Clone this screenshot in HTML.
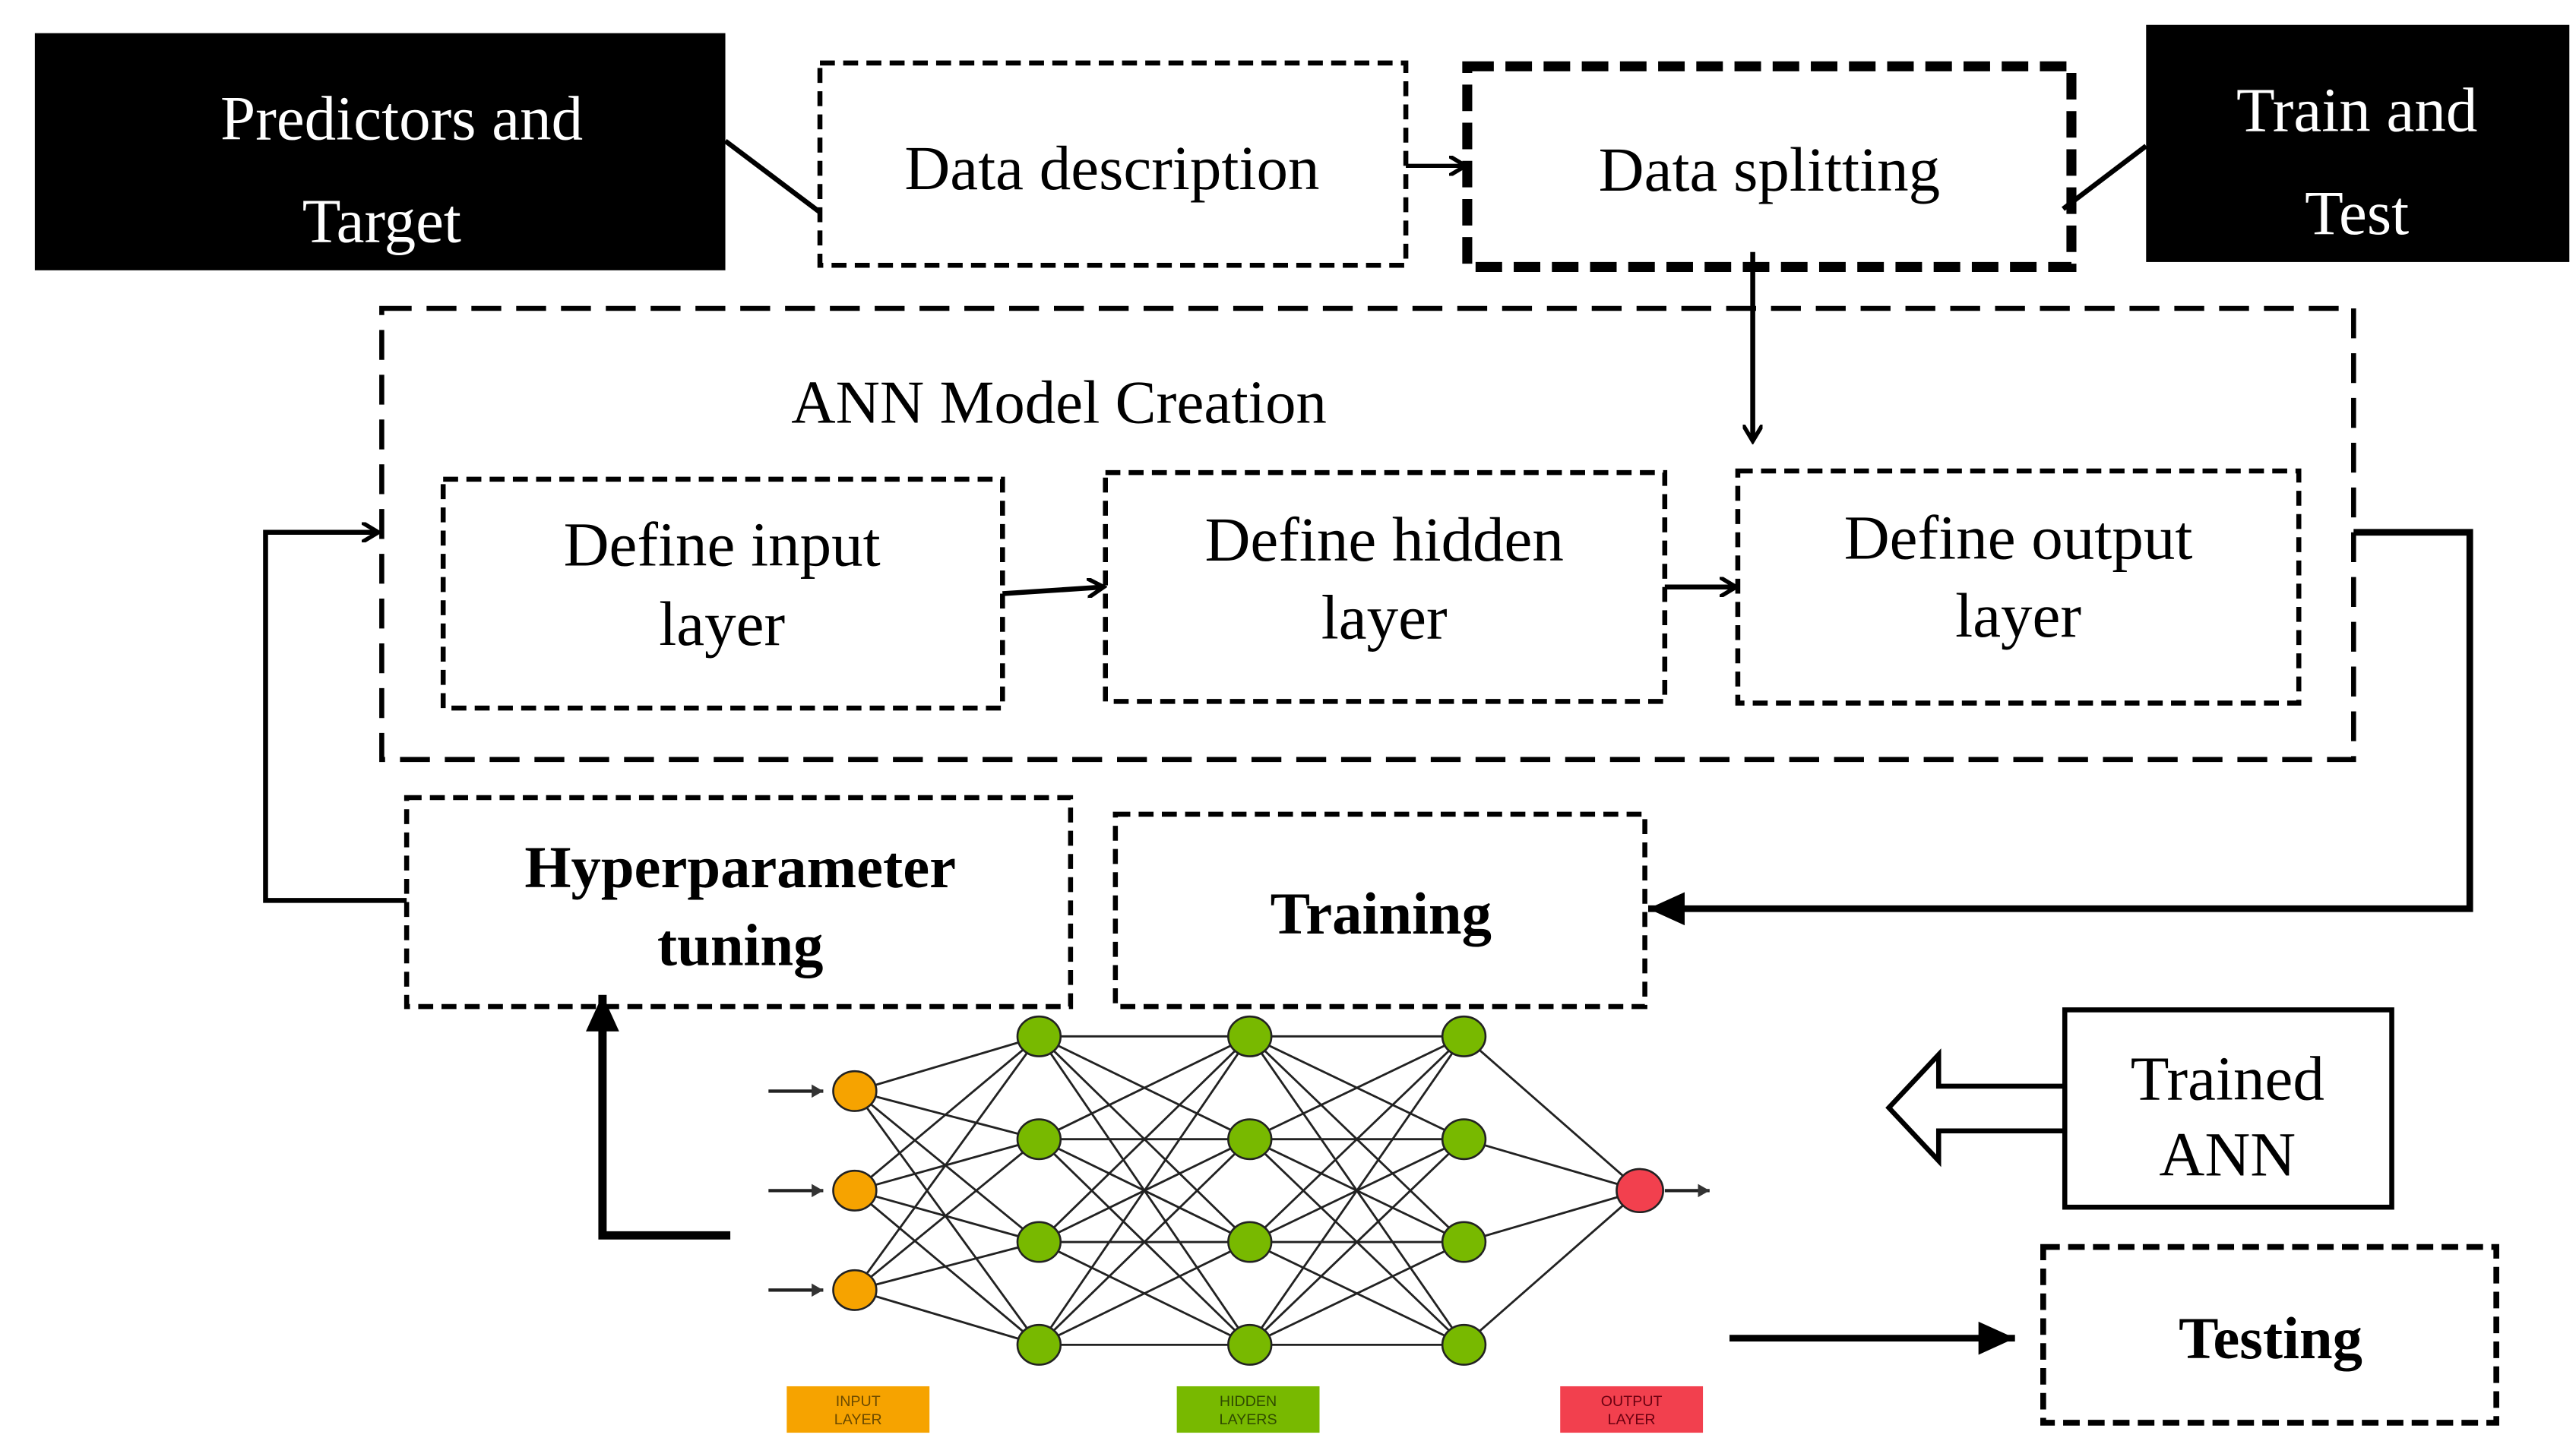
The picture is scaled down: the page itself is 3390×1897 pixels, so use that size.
<!DOCTYPE html>
<html><head><meta charset="utf-8"><style>
html,body{margin:0;padding:0;background:#fff}
svg{display:block}
text{font-family:"Liberation Serif",serif;fill:#000}
</style></head><body>
<svg width="3390" height="1897" viewBox="0 0 1552 869" preserveAspectRatio="none" xmlns="http://www.w3.org/2000/svg">
<defs>
<marker id="ao" markerWidth="12" markerHeight="12" refX="10" refY="6" orient="auto" markerUnits="userSpaceOnUse"><path d="M0,0 L10,6 L0,12" fill="none" stroke="#000" stroke-width="2.5"/></marker>
<marker id="af" markerWidth="24" markerHeight="24" refX="22" refY="12" orient="auto" markerUnits="userSpaceOnUse"><path d="M0,2 L22,12 L0,22 z" fill="#000"/></marker>
<marker id="as" markerWidth="8" markerHeight="8" refX="7" refY="4" orient="auto" markerUnits="userSpaceOnUse"><path d="M0,0 L7,4 L0,8 z" fill="#333"/></marker>
</defs>

<rect x="21" y="20" width="416" height="143" fill="#000"/>
<text x="242" y="84" font-size="38" text-anchor="middle" style="fill:#fff">Predictors and</text>
<text x="230" y="146" font-size="38" text-anchor="middle" style="fill:#fff">Target</text>
<line x1="437" y1="85" x2="494" y2="128" stroke="#000" stroke-width="3"/>
<rect x="494" y="38" width="353" height="122" fill="none" stroke="#000" stroke-width="3" stroke-dasharray="9,5"/>
<text x="670" y="114" font-size="38" text-anchor="middle">Data description</text>
<line x1="847" y1="100" x2="883" y2="100" stroke="#000" stroke-width="2.5" marker-end="url(#ao)"/>
<rect x="884" y="40" width="364" height="121" fill="none" stroke="#000" stroke-width="6" stroke-dasharray="16,7"/>
<text x="1066" y="115" font-size="38" text-anchor="middle">Data splitting</text>
<line x1="1243" y1="126" x2="1293" y2="88" stroke="#000" stroke-width="3"/>
<rect x="1293" y="15" width="255" height="143" fill="#000"/>
<text x="1420" y="79" font-size="38" text-anchor="middle" style="fill:#fff">Train and</text>
<text x="1420" y="141" font-size="38" text-anchor="middle" style="fill:#fff">Test</text>
<line x1="1056" y1="152" x2="1056" y2="266" stroke="#000" stroke-width="3" marker-end="url(#ao)"/>

<rect x="230" y="186" width="1188" height="272" fill="none" stroke="#000" stroke-width="3" stroke-dasharray="18,9"/>
<text x="638" y="255" font-size="37" text-anchor="middle">ANN Model Creation</text>
<rect x="267" y="289" width="337" height="138" fill="none" stroke="#000" stroke-width="3" stroke-dasharray="9,5"/>
<text x="435" y="341" font-size="38" text-anchor="middle">Define input</text>
<text x="435" y="389" font-size="38" text-anchor="middle">layer</text>
<rect x="666" y="285" width="337" height="138" fill="none" stroke="#000" stroke-width="3" stroke-dasharray="9,5"/>
<text x="834" y="338" font-size="38" text-anchor="middle">Define hidden</text>
<text x="834" y="385" font-size="38" text-anchor="middle">layer</text>
<rect x="1047" y="284" width="338" height="140" fill="none" stroke="#000" stroke-width="3" stroke-dasharray="9,5"/>
<text x="1216" y="337" font-size="38" text-anchor="middle">Define output</text>
<text x="1216" y="384" font-size="38" text-anchor="middle">layer</text>
<line x1="604" y1="358" x2="665" y2="354" stroke="#000" stroke-width="3" marker-end="url(#ao)"/>
<line x1="1003" y1="354" x2="1046" y2="354" stroke="#000" stroke-width="3" marker-end="url(#ao)"/>

<polyline points="245,543 160,543 160,321 228,321" fill="none" stroke="#000" stroke-width="3" marker-end="url(#ao)"/>
<polyline points="1418,321 1488,321 1488,548 993,548" fill="none" stroke="#000" stroke-width="4" marker-end="url(#af)"/>

<rect x="245" y="481" width="400" height="126" fill="none" stroke="#000" stroke-width="3" stroke-dasharray="9,5"/>
<text x="446" y="535" font-size="36" font-weight="bold" text-anchor="middle">Hyperparameter</text>
<text x="446" y="582" font-size="36" font-weight="bold" text-anchor="middle">tuning</text>
<rect x="672" y="491" width="319" height="116" fill="none" stroke="#000" stroke-width="3" stroke-dasharray="9,5"/>
<text x="832" y="563" font-size="36" font-weight="bold" text-anchor="middle">Training</text>

<polyline points="440,745 363,745 363,600" fill="none" stroke="#000" stroke-width="5" marker-end="url(#af)"/>

<g stroke="#222" stroke-width="1.3">
<line x1="515" y1="658" x2="626" y2="625"/><line x1="515" y1="658" x2="626" y2="687"/><line x1="515" y1="658" x2="626" y2="749"/><line x1="515" y1="658" x2="626" y2="811"/>
<line x1="515" y1="718" x2="626" y2="625"/><line x1="515" y1="718" x2="626" y2="687"/><line x1="515" y1="718" x2="626" y2="749"/><line x1="515" y1="718" x2="626" y2="811"/>
<line x1="515" y1="778" x2="626" y2="625"/><line x1="515" y1="778" x2="626" y2="687"/><line x1="515" y1="778" x2="626" y2="749"/><line x1="515" y1="778" x2="626" y2="811"/>
<line x1="626" y1="625" x2="753" y2="625"/><line x1="626" y1="625" x2="753" y2="687"/><line x1="626" y1="625" x2="753" y2="749"/><line x1="626" y1="625" x2="753" y2="811"/>
<line x1="626" y1="687" x2="753" y2="625"/><line x1="626" y1="687" x2="753" y2="687"/><line x1="626" y1="687" x2="753" y2="749"/><line x1="626" y1="687" x2="753" y2="811"/>
<line x1="626" y1="749" x2="753" y2="625"/><line x1="626" y1="749" x2="753" y2="687"/><line x1="626" y1="749" x2="753" y2="749"/><line x1="626" y1="749" x2="753" y2="811"/>
<line x1="626" y1="811" x2="753" y2="625"/><line x1="626" y1="811" x2="753" y2="687"/><line x1="626" y1="811" x2="753" y2="749"/><line x1="626" y1="811" x2="753" y2="811"/>
<line x1="753" y1="625" x2="882" y2="625"/><line x1="753" y1="625" x2="882" y2="687"/><line x1="753" y1="625" x2="882" y2="749"/><line x1="753" y1="625" x2="882" y2="811"/>
<line x1="753" y1="687" x2="882" y2="625"/><line x1="753" y1="687" x2="882" y2="687"/><line x1="753" y1="687" x2="882" y2="749"/><line x1="753" y1="687" x2="882" y2="811"/>
<line x1="753" y1="749" x2="882" y2="625"/><line x1="753" y1="749" x2="882" y2="687"/><line x1="753" y1="749" x2="882" y2="749"/><line x1="753" y1="749" x2="882" y2="811"/>
<line x1="753" y1="811" x2="882" y2="625"/><line x1="753" y1="811" x2="882" y2="687"/><line x1="753" y1="811" x2="882" y2="749"/><line x1="753" y1="811" x2="882" y2="811"/>
<line x1="882" y1="625" x2="988" y2="718"/><line x1="882" y1="687" x2="988" y2="718"/><line x1="882" y1="749" x2="988" y2="718"/><line x1="882" y1="811" x2="988" y2="718"/>
<line x1="463" y1="658" x2="496" y2="658" stroke-width="2" marker-end="url(#as)"/>
<line x1="463" y1="718" x2="496" y2="718" stroke-width="2" marker-end="url(#as)"/>
<line x1="463" y1="778" x2="496" y2="778" stroke-width="2" marker-end="url(#as)"/>
<line x1="1003" y1="718" x2="1030" y2="718" stroke-width="2" marker-end="url(#as)"/>
</g>
<g stroke="#222" stroke-width="1.2">
<ellipse cx="515" cy="658" rx="13" ry="12" fill="#f6a300"/>
<ellipse cx="515" cy="718" rx="13" ry="12" fill="#f6a300"/>
<ellipse cx="515" cy="778" rx="13" ry="12" fill="#f6a300"/>
<ellipse cx="626" cy="625" rx="13" ry="12" fill="#78b900"/><ellipse cx="626" cy="687" rx="13" ry="12" fill="#78b900"/><ellipse cx="626" cy="749" rx="13" ry="12" fill="#78b900"/><ellipse cx="626" cy="811" rx="13" ry="12" fill="#78b900"/>
<ellipse cx="753" cy="625" rx="13" ry="12" fill="#78b900"/><ellipse cx="753" cy="687" rx="13" ry="12" fill="#78b900"/><ellipse cx="753" cy="749" rx="13" ry="12" fill="#78b900"/><ellipse cx="753" cy="811" rx="13" ry="12" fill="#78b900"/>
<ellipse cx="882" cy="625" rx="13" ry="12" fill="#78b900"/><ellipse cx="882" cy="687" rx="13" ry="12" fill="#78b900"/><ellipse cx="882" cy="749" rx="13" ry="12" fill="#78b900"/><ellipse cx="882" cy="811" rx="13" ry="12" fill="#78b900"/>
<ellipse cx="988" cy="718" rx="14" ry="13" fill="#f2404e"/>
</g>
<rect x="474" y="836" width="86" height="28" fill="#f6a300"/>
<text x="517" y="848" font-size="9" text-anchor="middle" style="font-family:'Liberation Sans',sans-serif;fill:#6b4a00">INPUT</text>
<text x="517" y="859" font-size="9" text-anchor="middle" style="font-family:'Liberation Sans',sans-serif;fill:#6b4a00">LAYER</text>
<rect x="709" y="836" width="86" height="28" fill="#78b900"/>
<text x="752" y="848" font-size="9" text-anchor="middle" style="font-family:'Liberation Sans',sans-serif;fill:#2f4a00">HIDDEN</text>
<text x="752" y="859" font-size="9" text-anchor="middle" style="font-family:'Liberation Sans',sans-serif;fill:#2f4a00">LAYERS</text>
<rect x="940" y="836" width="86" height="28" fill="#f2404e"/>
<text x="983" y="848" font-size="9" text-anchor="middle" style="font-family:'Liberation Sans',sans-serif;fill:#6a0010">OUTPUT</text>
<text x="983" y="859" font-size="9" text-anchor="middle" style="font-family:'Liberation Sans',sans-serif;fill:#6a0010">LAYER</text>

<rect x="1244" y="609" width="197" height="119" fill="none" stroke="#000" stroke-width="3"/>
<text x="1342" y="663" font-size="38" text-anchor="middle">Trained</text>
<text x="1342" y="709" font-size="38" text-anchor="middle">ANN</text>
<polygon points="1244,655 1168,655 1168,636 1138,668 1168,700 1168,682 1244,682" fill="#fff" stroke="#000" stroke-width="3"/>

<line x1="1042" y1="807" x2="1214" y2="807" stroke="#000" stroke-width="4" marker-end="url(#af)"/>
<rect x="1231" y="752" width="273" height="106" fill="none" stroke="#000" stroke-width="3.5" stroke-dasharray="10,5"/>
<text x="1368" y="819" font-size="36" font-weight="bold" text-anchor="middle">Testing</text>
</svg>
</body></html>
